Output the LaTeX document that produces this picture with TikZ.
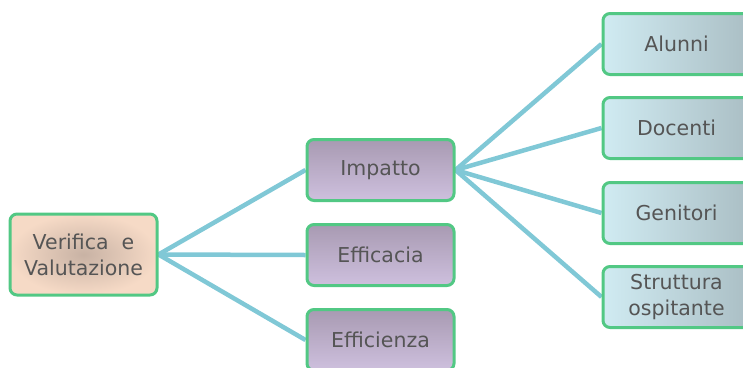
\documentclass[tikz,border=0pt]{standalone}
\usepackage{fontspec}
\setmainfont{DejaVu Sans}
\usetikzlibrary{backgrounds}
\definecolor{bordo}{RGB}{82,200,132}
\definecolor{linea}{RGB}{128,200,214}
\definecolor{testo}{RGB}{85,85,85}
\definecolor{pesca}{RGB}{246,218,198}
\definecolor{pescascuro}{RGB}{200,178,164}
\definecolor{lilla}{RGB}{206,192,222}
\definecolor{lillascuro}{RGB}{168,154,178}
\definecolor{ciano}{RGB}{208,235,242}
\definecolor{cianoscuro}{RGB}{170,190,196}
\begin{document}
\begin{tikzpicture}[x=1pt,y=-1pt,
    box/.style={draw=bordo,line width=3pt,rounded corners=7pt,minimum width=147pt,
        minimum height=61pt,align=center,text=testo,font=\fontsize{20.5}{26}\selectfont},
    rootbox/.style={box,minimum height=81pt,inner color=pescascuro,outer color=pesca},
    midbox/.style={box,top color=lillascuro,bottom color=lilla},
    leafbox/.style={box,left color=ciano,right color=cianoscuro},
    conn/.style={draw=linea,line width=4.5pt}]
    \useasboundingbox (0,0) rectangle (743,367);
    \node[rootbox] (root) at (83.5,254.5) {Verifica\ \ e\\Valutazione};
    \foreach \y/\name/\txt in {170/imp/Impatto, 255/effc/Efficacia, 340/effz/Efficienza} {
        \node[midbox] (\name) at (380.5,\y) {\txt};
    }
    \foreach \y/\name/\txt in {44/alu/Alunni, 128/doc/Docenti, 213/gen/Genitori, 297/str/{Struttura\\ospitante}} {
        \node[leafbox] (\name) at (676.5,\y) {\txt};
    }
    \begin{scope}[on background layer]
        \foreach \name in {imp,effc,effz} {
            \draw[conn] (root.east) -- (\name.west);
        }
        \foreach \name in {alu,doc,gen,str} {
            \draw[conn] (imp.east) -- (\name.west);
        }
    \end{scope}
\end{tikzpicture}
\end{document}
